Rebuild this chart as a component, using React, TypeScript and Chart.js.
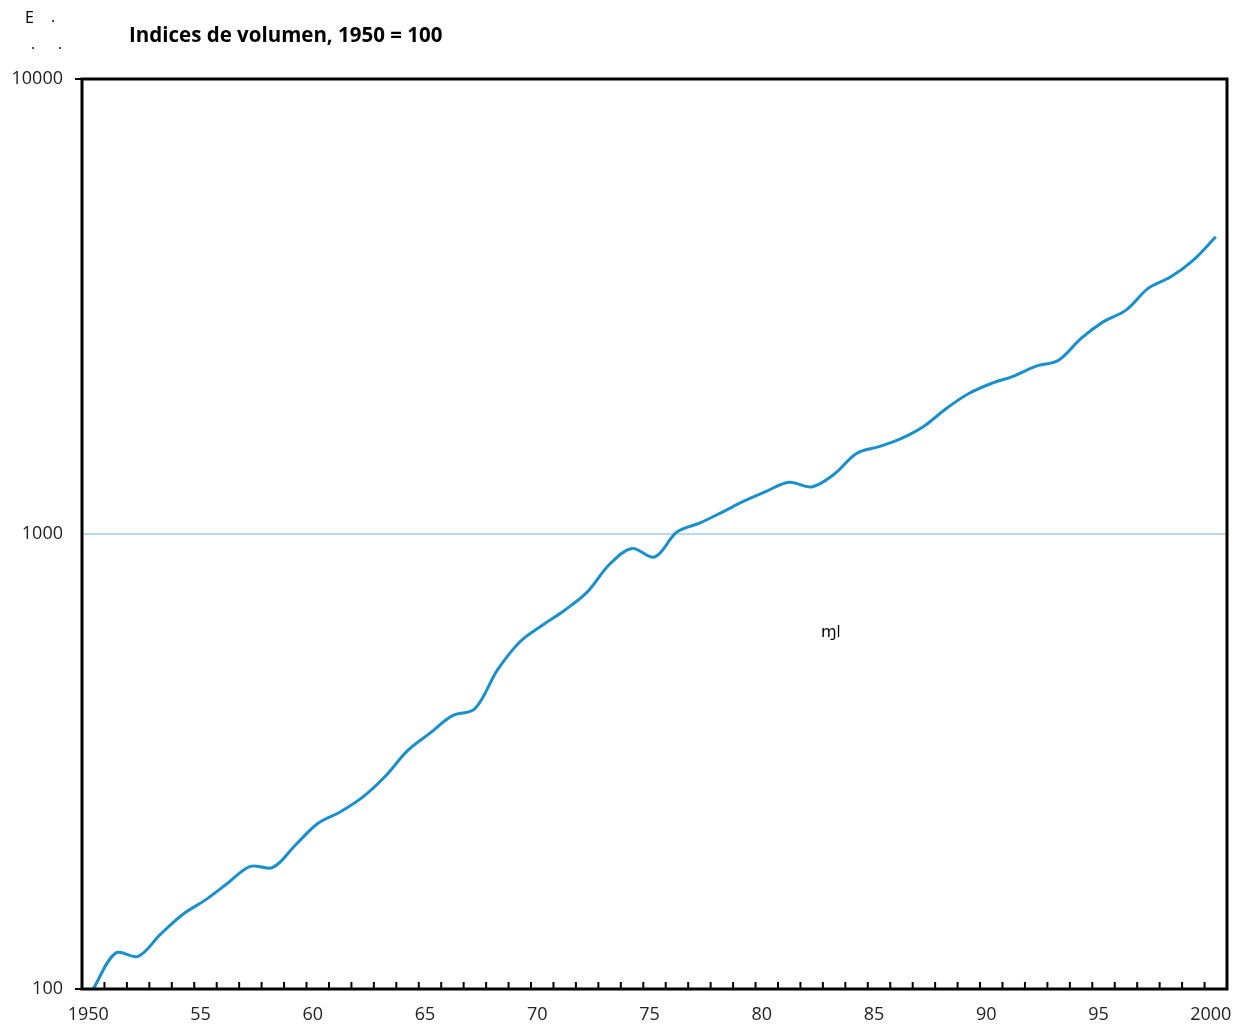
import React, { useEffect, useRef } from 'react';
import { Chart, registerables } from 'chart.js';

Chart.register(...registerables);

const years: string[] = [
  '1950', '1951', '1952', '1953', '1954', '1955', '1956', '1957', '1958', '1959',
  '1960', '1961', '1962', '1963', '1964', '1965', '1966', '1967', '1968', '1969',
  '1970', '1971', '1972', '1973', '1974', '1975', '1976', '1977', '1978', '1979',
  '1980', '1981', '1982', '1983', '1984', '1985', '1986', '1987', '1988', '1989',
  '1990', '1991', '1992', '1993', '1994', '1995', '1996', '1997', '1998', '1999',
  '2000',
];

const volumeIndex: number[] = [
  100, 120, 118, 132, 146, 157, 171, 186, 185, 207,
  231, 245, 264, 293, 334, 365, 399, 413, 502, 579,
  630, 680, 745, 858, 929, 890, 1010, 1056, 1116, 1182,
  1243, 1299, 1269, 1353, 1503, 1556, 1622, 1725, 1888, 2036,
  2142, 2223, 2338, 2410, 2690, 2929, 3105, 3471, 3675, 3999,
  4500,
];

const yTickValues: number[] = [100, 1000, 10000];
const xTickLabels: Record<string, string> = {
  '1950': '1950', '1955': '55', '1960': '60', '1965': '65', '1970': '70',
  '1975': '75', '1980': '80', '1985': '85', '1990': '90', '1995': '95', '2000': '2000',
};

const titleText = 'Indices de volumen, 1950 = 100';
const FONT = '"Open Sans", "DejaVu Sans", sans-serif';

const framePlugin = {
  id: 'frame',
  afterDraw(chart: any) {
    const { ctx, chartArea } = chart;
    const xs = chart.scales.x;
    ctx.save();
    ctx.strokeStyle = '#000';
    ctx.lineWidth = 2;
    for (let i = 1; i < years.length; i++) {
      const x = (xs.getPixelForValue(i - 1) + xs.getPixelForValue(i)) / 2;
      ctx.beginPath();
      ctx.moveTo(x, chartArea.bottom);
      ctx.lineTo(x, chartArea.bottom - 7);
      ctx.stroke();
    }
    ctx.lineWidth = 3;
    ctx.strokeRect(chartArea.left, chartArea.top, chartArea.right - chartArea.left, chartArea.bottom - chartArea.top);
    ctx.fillStyle = '#000';
    ctx.font = `bold 20.5px ${FONT}`;
    ctx.textBaseline = 'middle';
    ctx.textAlign = 'left';
    ctx.fillText(titleText, 129, 36);
    ctx.font = `16px ${FONT}`;
    ctx.fillText('E', 25, 18);
    ctx.fillText('.', 51, 17);
    ctx.fillText('.', 31, 44);
    ctx.fillText('.', 58, 44);
    ctx.font = `16px ${FONT}`;
    ctx.fillText('\u0271l', 821, 632);
    ctx.restore();
  },
};

export default function App() {
  const canvasRef = useRef<HTMLCanvasElement | null>(null);

  useEffect(() => {
    if (!canvasRef.current) return;
    const chart = new Chart(canvasRef.current, {
      type: 'line',
      data: {
        labels: years,
        datasets: [
          {
            data: volumeIndex,
            borderColor: '#1b8fca',
            borderWidth: 3,
            pointRadius: 0,
            tension: 0.35,
            fill: false,
          },
        ],
      },
      options: {
        animation: false,
        responsive: false,
        maintainAspectRatio: false,
        layout: { padding: { top: 79, right: 20, left: 0, bottom: 0 } },
        plugins: {
          legend: { display: false },
          title: { display: false },
          tooltip: { enabled: false },
        },
        scales: {
          x: {
            type: 'category',
            offset: true,
            border: { display: false },
            grid: { display: false, drawTicks: false },
            ticks: {
              autoSkip: false,
              maxRotation: 0,
              minRotation: 0,
              padding: 15,
              labelOffset: -5,
              color: '#222',
              font: { family: FONT, size: 18 },
              callback: (_v: any, i: number) => xTickLabels[years[i]] ?? '',
            },
            afterFit: (s: any) => {
              s.height = 40;
              s.paddingLeft = 0;
              s.paddingRight = 0;
            },
          },
          y: {
            type: 'logarithmic',
            min: 100,
            max: 10000,
            border: { display: false },
            afterBuildTicks: (s: any) => {
              s.ticks = yTickValues.map((v) => ({ value: v }));
            },
            grid: {
              color: (c: any) => (c.tick && c.tick.value === 1000 ? '#bcd8f0' : 'rgba(0,0,0,0)'),
              tickColor: (c: any) => (c.tick && c.tick.value === 1000 ? 'rgba(0,0,0,0)' : '#000'),
              lineWidth: 2,
              tickWidth: 2,
              tickLength: 7,
            },
            ticks: {
              padding: 12,
              color: '#222',
              font: { family: FONT, size: 18 },
              callback: (v: any) => String(v),
            },
            afterFit: (s: any) => {
              s.width = 82;
              s.paddingTop = 0;
              s.paddingBottom = 0;
            },
          },
        },
      },
      plugins: [framePlugin],
    });
    return () => chart.destroy();
  }, []);

  return (
    <div style={{ position: 'absolute', left: 0, top: 0, width: 1247, height: 1029, background: '#fff' }}>
      <canvas ref={canvasRef} width={1247} height={1029} style={{ width: 1247, height: 1029 }} />
    </div>
  );
}
